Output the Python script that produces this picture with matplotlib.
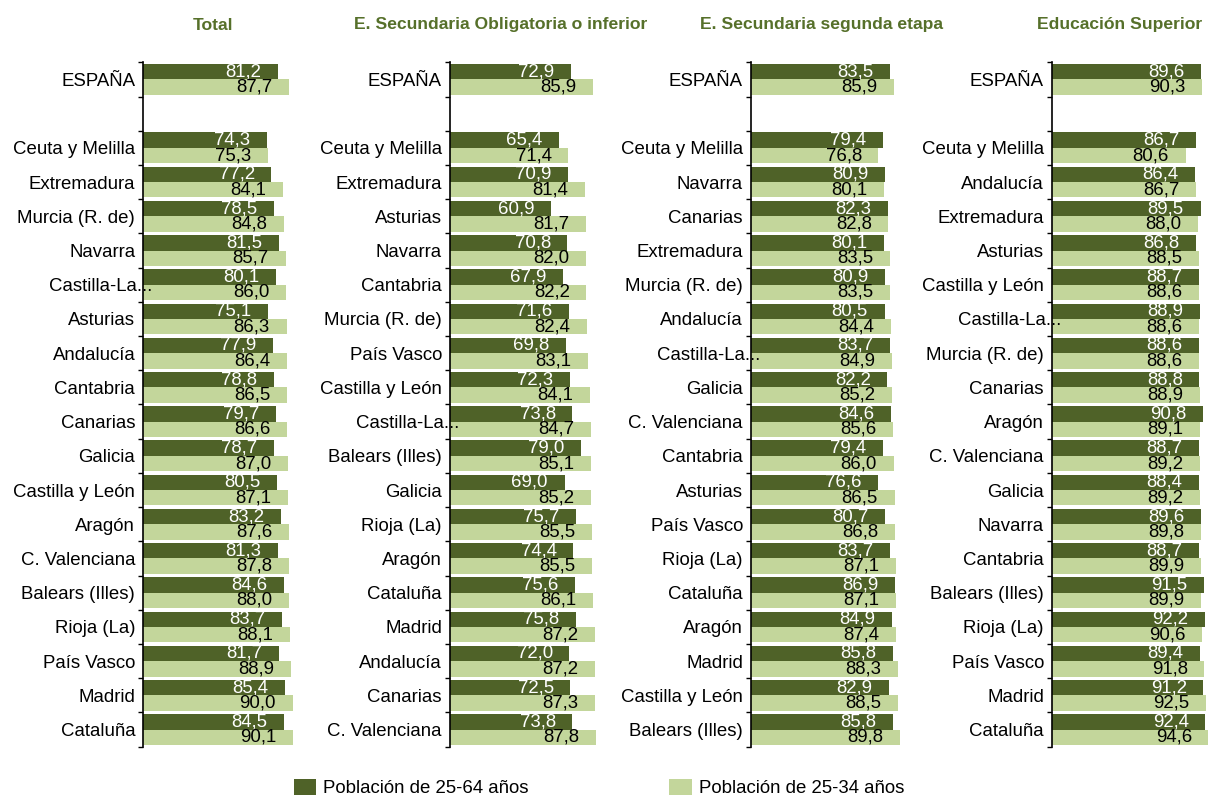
import matplotlib.pyplot as plt
from matplotlib.patches import Patch
import matplotlib.transforms as mtransforms

plt.rcParams['font.family'] = ['Liberation Sans', 'DejaVu Sans']

# Titles and series names
titulos = ['Total', 'E. Secundaria Obligatoria o inferior',
           'E. Secundaria segunda etapa', 'Educación Superior']
series = ['Población de 25-64 años', 'Población de 25-34 años']

# España values (25-64, 25-34) per panel
espana_2564 = [81.2, 72.9, 83.5, 89.6]
espana_2534 = [87.7, 85.9, 85.9, 90.3]

# Total
reg_total = ['Ceuta y Melilla', 'Extremadura', 'Murcia (R. de)', 'Navarra', 'Castilla-La...',
             'Asturias', 'Andalucía', 'Cantabria', 'Canarias', 'Galicia', 'Castilla y León',
             'Aragón', 'C. Valenciana', 'Balears (Illes)', 'Rioja (La)', 'País Vasco',
             'Madrid', 'Cataluña']
total_2564 = [74.3, 77.2, 78.5, 81.5, 80.1, 75.1, 77.9, 78.8, 79.7, 78.7, 80.5,
              83.2, 81.3, 84.6, 83.7, 81.7, 85.4, 84.5]
total_2534 = [75.3, 84.1, 84.8, 85.7, 86.0, 86.3, 86.4, 86.5, 86.6, 87.0, 87.1,
              87.6, 87.8, 88.0, 88.1, 88.9, 90.0, 90.1]

# E. Secundaria Obligatoria o inferior
reg_sec1 = ['Ceuta y Melilla', 'Extremadura', 'Asturias', 'Navarra', 'Cantabria',
            'Murcia (R. de)', 'País Vasco', 'Castilla y León', 'Castilla-La...',
            'Balears (Illes)', 'Galicia', 'Rioja (La)', 'Aragón', 'Cataluña', 'Madrid',
            'Andalucía', 'Canarias', 'C. Valenciana']
sec1_2564 = [65.4, 70.9, 60.9, 70.8, 67.9, 71.6, 69.8, 72.3, 73.8,
             79.0, 69.0, 75.7, 74.4, 75.6, 75.8, 72.0, 72.5, 73.8]
sec1_2534 = [71.4, 81.4, 81.7, 82.0, 82.2, 82.4, 83.1, 84.1, 84.7,
             85.1, 85.2, 85.5, 85.5, 86.1, 87.2, 87.2, 87.3, 87.8]

# E. Secundaria segunda etapa
reg_sec2 = ['Ceuta y Melilla', 'Navarra', 'Canarias', 'Extremadura', 'Murcia (R. de)',
            'Andalucía', 'Castilla-La...', 'Galicia', 'C. Valenciana', 'Cantabria',
            'Asturias', 'País Vasco', 'Rioja (La)', 'Cataluña', 'Aragón', 'Madrid',
            'Castilla y León', 'Balears (Illes)']
sec2_2564 = [79.4, 80.9, 82.3, 80.1, 80.9, 80.5, 83.7, 82.2, 84.6, 79.4,
             76.6, 80.7, 83.7, 86.9, 84.9, 85.8, 82.9, 85.8]
sec2_2534 = [76.8, 80.1, 82.8, 83.5, 83.5, 84.4, 84.9, 85.2, 85.6, 86.0,
             86.5, 86.8, 87.1, 87.1, 87.4, 88.3, 88.5, 89.8]

# Educación Superior
reg_sup = ['Ceuta y Melilla', 'Andalucía', 'Extremadura', 'Asturias', 'Castilla y León',
           'Castilla-La...', 'Murcia (R. de)', 'Canarias', 'Aragón', 'C. Valenciana',
           'Galicia', 'Navarra', 'Cantabria', 'Balears (Illes)', 'Rioja (La)',
           'País Vasco', 'Madrid', 'Cataluña']
sup_2564 = [86.7, 86.4, 89.5, 86.8, 88.7, 88.9, 88.6, 88.8, 90.8, 88.7,
            88.4, 89.6, 88.7, 91.5, 92.2, 89.4, 91.2, 92.4]
sup_2534 = [80.6, 86.7, 88.0, 88.5, 88.6, 88.6, 88.6, 88.9, 89.1, 89.2,
            89.2, 89.8, 89.9, 89.9, 90.6, 91.8, 92.5, 94.6]

regiones = [reg_total, reg_sec1, reg_sec2, reg_sup]
vals_2564 = [total_2564, sec1_2564, sec2_2564, sup_2564]
vals_2534 = [total_2534, sec1_2534, sec2_2534, sup_2534]

oscuro = '#4F6228'
claro = '#C3D69B'
titulo_color = '#56702A'
fs = 13.4

W, H = 1208, 799
fig = plt.figure(figsize=(W / 100, H / 100), dpi=100)

lefts = [143.3, 450, 751, 1052]
top_px, bot_px = 62.3, 746.7
ancho = 156
h = 0.45

for k in range(4):
    ax = fig.add_axes([lefts[k] / W, 1 - bot_px / H, ancho / W, (bot_px - top_px) / H])
    cats = ['ESPAÑA', ''] + regiones[k]
    v1 = [espana_2564[k]] + vals_2564[k]
    v2 = [espana_2534[k]] + vals_2534[k]
    pos = [0] + list(range(2, len(cats)))

    ax.barh([p - h / 2 for p in pos], v1, height=h, color=oscuro)
    ax.barh([p + h / 2 for p in pos], v2, height=h, color=claro)

    for p, a, b in zip(pos, v1, v2):
        ax.annotate(f'{a:.1f}'.replace('.', ','), xy=(a, p - h / 2), xytext=(-12, 0),
                    textcoords='offset points', ha='right', va='center',
                    color='white', fontsize=fs, annotation_clip=False)
        ax.annotate(f'{b:.1f}'.replace('.', ','), xy=(b, p + h / 2), xytext=(-12, 0),
                    textcoords='offset points', ha='right', va='center',
                    color='black', fontsize=fs, annotation_clip=False)

    ax.set_xlim(0, 94)
    ax.set_ylim(len(cats) - 0.5, -0.5)
    ax.set_xticks([])
    ax.set_yticks([i - 0.5 for i in range(len(cats) + 1)])
    ax.set_yticklabels([])
    ax.tick_params(axis='y', which='major', length=3.8, width=1, direction='out')
    ax.set_yticks(range(len(cats)), minor=True)
    ax.set_yticklabels(cats, minor=True, fontsize=fs)
    ax.tick_params(axis='y', which='minor', length=0, pad=5.8)
    for lbl in ax.get_yticklabels(minor=True):
        if lbl.get_text().endswith('...'):
            lbl.set_transform(lbl.get_transform() +
                              mtransforms.ScaledTranslation(17 / 100, 0, fig.dpi_scale_trans))
    for s in ['top', 'right', 'bottom']:
        ax.spines[s].set_visible(False)
    ax.spines['left'].set_linewidth(1.2)
    ax.patch.set_alpha(0)

centros = [213, 501, 822, 1120]
for t, cx in zip(titulos, centros):
    fig.text(cx / W, 1 - 25 / H, t, ha='center', va='center', fontsize=12.6,
             fontweight='bold', color=titulo_color)

handles = [Patch(facecolor=oscuro), Patch(facecolor=claro)]
fig.legend(handles, series, loc='center left', bbox_to_anchor=(294 / W, 1 - 788 / H),
           ncol=2, frameon=False, fontsize=fs, handlelength=1.2, handleheight=1.02,
           handletextpad=0.38, columnspacing=7.55, borderpad=0, borderaxespad=0)

fig.savefig('out.png', dpi=100)
